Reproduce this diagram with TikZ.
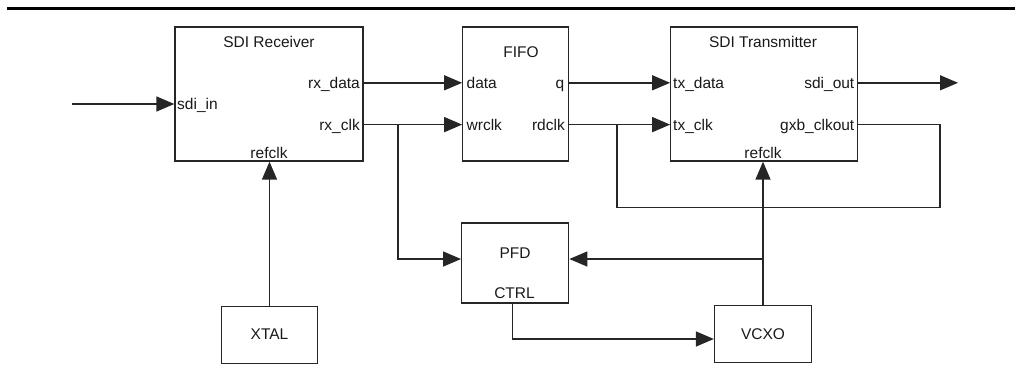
\documentclass[tikz,border=0pt]{standalone}
\usepackage{fontspec}
\setmainfont{Liberation Sans}
\usetikzlibrary{arrows.meta}
\begin{document}
\begin{tikzpicture}[x=1pt,y=1pt,
  blk/.style={draw=black!85,line width=1.3pt,inner sep=0pt,minimum width=#1},
  lbl/.style={inner sep=0pt,font=\fontsize{15.5}{18}\selectfont,text=black!90},
  wire/.style={draw=black!85,line width=1.4pt},
  arr/.style={wire,-{Triangle[length=18pt,width=15pt]}}]
\useasboundingbox (0,0) rectangle (1015,-376);
\draw[line width=3pt] (7,-8.5) -- (1015,-8.5);
% boxes
\node[blk=188pt,minimum height=134pt] (rx) at (269,-94) {};
\node[blk=106pt,minimum height=134pt] (fifo) at (515.8,-94) {};
\node[blk=187pt,minimum height=134pt] (tx) at (764.3,-94) {};
\node[blk=107pt,minimum height=80pt] (pfd) at (515.2,-263) {};
\node[blk=96pt,minimum height=57pt] (xtal) at (269.5,-335.2) {};
\node[blk=97pt,minimum height=57pt] (vcxo) at (763,-334.2) {};
% labels
\node[lbl,anchor=base] (rxt) at (269,-47.5) {SDI Receiver};
\node[lbl,anchor=base west] (rxin) at (177,-109.5) {sdi\_in};
\node[lbl,anchor=base east] (rxdl) at (360,-88.3) {rx\_data};
\node[lbl,anchor=base east] (rxcl) at (360,-130) {rx\_clk};
\node[lbl,anchor=base] (rxrl) at (269,-158.5) {refclk};
\node[lbl,anchor=base] (ft) at (521,-57.5) {FIFO};
\node[lbl,anchor=base west] (fdl) at (466.5,-88) {data};
\node[lbl,anchor=base west] (fwl) at (466.5,-130) {wrclk};
\node[lbl,anchor=base east] (fql) at (564.5,-88) {q};
\node[lbl,anchor=base east] (frl) at (565,-130) {rdclk};
\node[lbl,anchor=base] (txt) at (763,-47.5) {SDI Transmitter};
\node[lbl,anchor=base west] (tdl) at (673,-88) {tx\_data};
\node[lbl,anchor=base west] (tcl) at (673,-130) {tx\_clk};
\node[lbl,anchor=base east] (tol) at (854.5,-88) {sdi\_out};
\node[lbl,anchor=base east] (tgl) at (854.5,-130) {gxb\_clkout};
\node[lbl,anchor=base] (trl) at (763,-158.5) {refclk};
\node[lbl,anchor=base] (pfdt) at (515,-258.2) {PFD};
\node[lbl,anchor=base] (ctrl) at (514.5,-298.2) {CTRL};
\node[lbl,anchor=base] (xtalt) at (269.5,-339.5) {XTAL};
\node[lbl,anchor=base] (vcxot) at (763,-339.5) {VCXO};
% ports
\coordinate (in) at (72,-104);
\coordinate (rx-in) at (rx.west |- in);
\coordinate (rx-data) at (rx.east |- 0,-82.8);
\coordinate (rx-clk) at (rx.east |- 0,-124.6);
\coordinate (fifo-data) at (fifo.west |- rx-data);
\coordinate (fifo-wr) at (fifo.west |- rx-clk);
\coordinate (fifo-q) at (fifo.east |- rx-data);
\coordinate (fifo-rd) at (fifo.east |- rx-clk);
\coordinate (tx-data) at (tx.west |- rx-data);
\coordinate (tx-clk) at (tx.west |- rx-clk);
\coordinate (tx-out) at (tx.east |- rx-data);
\coordinate (tx-gxb) at (tx.east |- rx-clk);
\coordinate (out) at (958,-82.8);
\coordinate (br1) at (398,-124.6);
\coordinate (br2) at (617,-124.6);
\coordinate (loopr) at (940,-124.6);
\coordinate (loopb) at (940,-207.3);
\coordinate (pfd-in) at (pfd.west |- 0,-259);
\coordinate (pfd-fb) at (pfd.east |- 0,-259);
\coordinate (vbr) at (763,-259);
\coordinate (ctrl-out) at (pfd.south -| 512.7,0);
\coordinate (vcxo-in) at (vcxo.west |- 0,-339);
% connectors
\draw[arr] (in) -- (rx-in);
\draw[arr] (rx-data) -- (fifo-data);
\draw[arr] (rx-clk) -- (fifo-wr);
\draw[arr] (br1) |- (pfd-in);
\draw[arr] (fifo-q) -- (tx-data);
\draw[arr] (fifo-rd) -- (tx-clk);
\draw[arr] (tx-out) -- (out);
\draw[wire] (tx-gxb) -- (loopr) -- (loopb) -| (br2);
\draw[arr] (xtal.north) -- (rx.south -| xtal.north);
\draw[arr] (vcxo.north) -- (tx.south -| vcxo.north);
\draw[arr] (vbr) -- (pfd-fb);
\draw[arr] (ctrl-out) |- (vcxo-in);
\end{tikzpicture}
\end{document}
